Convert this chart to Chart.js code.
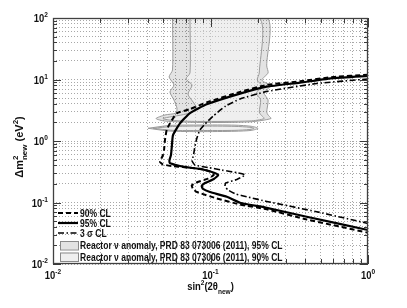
<!DOCTYPE html>
<html lang="en">
<head>
<meta charset="UTF-8">
<title>Exclusion contours</title>
<script src="https://cdn.jsdelivr.net/npm/chart.js"></script>
<style>
  html, body { margin: 0; padding: 0; background: #fff; }
  #wrap { width: 407px; height: 308px; }
</style>
</head>
<body>
<div id="wrap"><canvas id="contours" width="407" height="308"></canvas></div>
<script>
// ---- data: sin^2(2theta_new) and dm^2_new (eV^2) ----
const cl90_sin = [1, 0.602, 0.370, 0.2275, 0.154, 0.0946, 0.0741, 0.061, 0.0553, 0.0527, 0.0514, 0.0507, 0.0499, 0.0486, 0.0478, 0.0499, 0.057, 0.0689, 0.0857, 0.0993, 0.105, 0.0964, 0.081, 0.076, 0.0775, 0.082, 0.109, 0.154, 0.2275, 0.408, 1];
const cl90_dm2 = [12.0, 11.0, 9.37, 8.15, 6.3, 4.25, 3.3, 2.82, 1.94, 1.51, 1.04, 0.714, 0.59, 0.51, 0.456, 0.415, 0.392, 0.373, 0.355, 0.319, 0.28, 0.245, 0.211, 0.189, 0.166, 0.148, 0.117, 0.0927, 0.0775, 0.0531, 0.0323];

const cl95_sin = [1, 0.602, 0.370, 0.2275, 0.154, 0.0946, 0.0741, 0.064, 0.0578, 0.0568, 0.0561, 0.0549, 0.0553, 0.0604, 0.0671, 0.0857, 0.102, 0.112, 0.105, 0.0923, 0.0879, 0.0896, 0.0993, 0.127, 0.154, 0.2275, 0.408, 1];
const cl95_dm2 = [11.4, 10.5, 8.87, 7.64, 5.9, 3.95, 2.85, 1.94, 1.25, 0.81, 0.59, 0.49, 0.438, 0.407, 0.382, 0.350, 0.313, 0.280, 0.241, 0.207, 0.185, 0.166, 0.148, 0.124, 0.0993, 0.082, 0.0587, 0.0357];

const cl3s_sin = [1, 0.472, 0.2275, 0.154, 0.125, 0.104, 0.0923, 0.0857, 0.082, 0.0797, 0.078, 0.0764, 0.0797, 0.0964, 0.118, 0.150, 0.166, 0.147, 0.125, 0.1236, 0.129, 0.145, 0.170, 0.2275, 0.472, 1];
const cl3s_dm2 = [10.2, 8.6, 6.38, 4.82, 3.71, 2.55, 1.89, 1.51, 1.12, 0.83, 0.59, 0.473, 0.407, 0.371, 0.337, 0.302, 0.280, 0.237, 0.207, 0.185, 0.160, 0.137, 0.124, 0.104, 0.0708, 0.0456];

// reactor anomaly allowed regions (closed outlines)
const ra95band_sin = [0.0574, 0.0574, 0.0546, 0.0586, 0.0553, 0.0586, 0.0612, 0.0604, 0.0514, 0.0451, 0.0514, 0.0857, 0.178, 0.242, 0.232, 0.2275, 0.232, 0.219, 0.239, 0.212, 0.232, 0.2275, 0.2275, 0.0574];
const ra95band_dm2 = [100, 14.3, 11.0, 8.15, 6.27, 4.64, 3.44, 2.85, 2.65, 2.32, 2.11, 2.00, 2.05, 2.32, 2.65, 2.96, 4.64, 6.03, 7.84, 9.8, 12.8, 16.6, 100, 100];
const ra90band_sin = [0.0741, 0.0741, 0.0698, 0.0764, 0.0719, 0.0775, 0.082, 0.07, 0.0499, 0.06, 0.0857, 0.178, 0.219, 0.208, 0.204, 0.208, 0.196, 0.212, 0.198, 0.204, 0.204, 0.0741];
const ra90band_dm2 = [100, 12.8, 10.2, 8.15, 5.81, 4.31, 3.31, 2.75, 2.32, 2.14, 2.08, 2.12, 2.32, 2.7, 2.96, 4.64, 6.03, 7.84, 9.8, 12.8, 100, 100];
const ra95lobe_sin = [0.0401, 0.0553, 0.0857, 0.143, 0.183, 0.200, 0.183, 0.143, 0.0857, 0.0553, 0.0401];
const ra95lobe_dm2 = [1.61, 1.45, 1.42, 1.44, 1.49, 1.61, 1.73, 1.81, 1.82, 1.79, 1.61];
const ra90lobe_sin = [0.0432, 0.0574, 0.0857, 0.143, 0.178, 0.189, 0.178, 0.143, 0.0857, 0.0574, 0.0432];
const ra90lobe_dm2 = [1.61, 1.49, 1.48, 1.49, 1.54, 1.61, 1.67, 1.73, 1.75, 1.72, 1.61];

const xDecades = [-2, -1, 0];
const yDecades = [-2, -1, 0, 1, 2];

// ---- helpers ----
function pts(xs, ys) { return xs.map((x, i) => ({ x: x, y: ys[i] })); }

function decadeTicks(decs) {
  const out = [];
  decs.forEach((d, i) => {
    const last = i === decs.length - 1;
    for (let m = 1; m <= (last ? 1 : 9); m++) out.push({ value: m * Math.pow(10, d), major: m === 1 });
  });
  return out;
}

const FONT = '"Liberation Sans", Arial, Helvetica, sans-serif';
const SQUEEZE = 0.82; // the original figure is squashed sideways

// draw text made of pieces, some raised or lowered (super/subscripts)
function richText(ctx, parts, x, y, align, squeeze) {
  ctx.save();
  let w = 0;
  parts.forEach(p => {
    ctx.font = 'bold ' + p.size + 'px ' + FONT;
    p.w = ctx.measureText(p.t).width;
    if (!p.stack) w += p.w;
  });
  ctx.translate(x, y);
  ctx.scale(squeeze, 1);
  ctx.textAlign = 'left';
  ctx.textBaseline = 'alphabetic';
  let cx = align === 'right' ? -w : (align === 'center' ? -w / 2 : 0);
  parts.forEach(p => {
    ctx.font = 'bold ' + p.size + 'px ' + FONT;
    ctx.fillText(p.t, cx, p.dy || 0);
    if (!p.stack) cx += p.w;
  });
  ctx.restore();
}

// frame, inward ticks, tick labels, axis titles, legend
const decor = {
  id: 'decor',
  afterDatasetsDraw(chart) {
    const ctx = chart.ctx;
    const a = chart.chartArea;
    const xs = chart.scales.x, ys = chart.scales.y;
    ctx.save();
    ctx.strokeStyle = '#3a3a3a';
    ctx.lineWidth = 1;
    ctx.beginPath();
    xs.ticks.forEach(t => {
      const p = Math.round(xs.getPixelForValue(t.value)) + 0.5;
      const len = t.major ? 9 : 5;
      ctx.moveTo(p, a.bottom); ctx.lineTo(p, a.bottom - len);
      ctx.moveTo(p, a.top); ctx.lineTo(p, a.top + len);
    });
    ys.ticks.forEach(t => {
      const p = Math.round(ys.getPixelForValue(t.value)) + 0.5;
      const len = t.major ? 8 : 4;
      ctx.moveTo(a.left, p); ctx.lineTo(a.left + len, p);
      ctx.moveTo(a.right, p); ctx.lineTo(a.right - len, p);
    });
    ctx.stroke();
    ctx.lineWidth = 1.3;
    ctx.strokeStyle = '#404040';
    ctx.strokeRect(a.left + 0.5, a.top + 0.5, a.right - a.left - 1, a.bottom - a.top - 1);
    ctx.fillStyle = '#111';

    xDecades.forEach(d => {
      const p = xs.getPixelForValue(Math.pow(10, d));
      richText(ctx, [{ t: '10', size: 11.5 }, { t: String(d), size: 8, dy: -5 }], p, a.bottom + 15, 'center', SQUEEZE);
    });
    yDecades.forEach(d => {
      const p = ys.getPixelForValue(Math.pow(10, d));
      richText(ctx, [{ t: '10', size: 11.5 }, { t: String(d), size: 8, dy: -5 }], a.left - 5, p + 4, 'right', SQUEEZE);
    });

    // axis titles
    richText(ctx, [{ t: 'sin', size: 11.5 }, { t: '2', size: 8, dy: -5 }, { t: '(2\u03b8', size: 11.5 },
      { t: 'new', size: 8, dy: 4 }, { t: ')', size: 11.5 }], (a.left + a.right) / 2, 290, 'center', SQUEEZE);
    ctx.save();
    ctx.translate(23, (a.top + a.bottom) / 2 + 6);
    ctx.rotate(-Math.PI / 2);
    richText(ctx, [{ t: '\u0394m', size: 11 }, { t: '2', size: 8, dy: -5, stack: true }, { t: 'new', size: 8, dy: 4 },
      { t: ' (eV', size: 11 }, { t: '2', size: 8, dy: -5 }, { t: ')', size: 11 }], 0, 0, 'center', 1);
    ctx.restore();

    // legend
    const ds = chart.data.datasets;
    const lineRows = [[ds[0], 213], [ds[1], 223], [ds[2], 233]];
    lineRows.forEach(r => {
      const d = r[0], y = r[1];
      ctx.save();
      ctx.strokeStyle = d.borderColor;
      ctx.lineWidth = d.borderWidth;
      ctx.setLineDash(d.borderDash || []);
      ctx.beginPath(); ctx.moveTo(58, y); ctx.lineTo(78, y); ctx.stroke();
      ctx.restore();
      richText(ctx, [{ t: d.label, size: 10.4 }], 80, y + 3.5, 'left', SQUEEZE);
    });
    const boxRows = [[ds[5], '#e3e3e3', 241], [ds[3], '#efefef', 252.5]];
    boxRows.forEach(r => {
      const d = r[0], y = r[2];
      ctx.fillStyle = r[1];
      ctx.fillRect(60, y, 18, 8.5);
      ctx.strokeStyle = '#8a8a8a';
      ctx.lineWidth = 1;
      ctx.strokeRect(60.5, y + 0.5, 18, 8.5);
      ctx.fillStyle = '#111';
      richText(ctx, [{ t: d.label, size: 10.4 }], 80, y + 8, 'left', SQUEEZE);
    });
    ctx.restore();
  }
};

const lineBase = { showLine: true, pointRadius: 0, fill: false, tension: 0.15, borderColor: '#000', borderJoinStyle: 'round' };
const regionBase = { showLine: true, pointRadius: 0, tension: 0.25, fill: 'shape', borderColor: '#9a9a9a', borderWidth: 1 };

new Chart(document.getElementById('contours'), {
  type: 'scatter',
  data: {
    datasets: [
      Object.assign({}, lineBase, { label: '90% CL', data: pts(cl90_sin, cl90_dm2), borderWidth: 2, borderDash: [5, 3] }),
      Object.assign({}, lineBase, { label: '95% CL', data: pts(cl95_sin, cl95_dm2), borderWidth: 2.2 }),
      Object.assign({}, lineBase, { label: '3 \u03c3 CL', data: pts(cl3s_sin, cl3s_dm2), borderWidth: 1.6, borderDash: [6, 2.5, 1.5, 2.5] }),
      Object.assign({}, regionBase, { label: 'Reactor \u03bd anomaly, PRD 83 073006 (2011), 90% CL', data: pts(ra90band_sin, ra90band_dm2), backgroundColor: 'rgba(255,255,255,0.42)' }),
      Object.assign({}, regionBase, { label: 'Reactor \u03bd anomaly, PRD 83 073006 (2011), 90% CL', data: pts(ra90lobe_sin, ra90lobe_dm2), backgroundColor: 'rgba(255,255,255,0.42)' }),
      Object.assign({}, regionBase, { label: 'Reactor \u03bd anomaly, PRD 83 073006 (2011), 95% CL', data: pts(ra95band_sin, ra95band_dm2), backgroundColor: 'rgba(0,0,0,0.11)' }),
      Object.assign({}, regionBase, { label: 'Reactor \u03bd anomaly, PRD 83 073006 (2011), 95% CL', data: pts(ra95lobe_sin, ra95lobe_dm2), backgroundColor: 'rgba(0,0,0,0.11)' })
    ]
  },
  options: {
    responsive: false,
    animation: false,
    layout: { padding: { left: 53, right: 39, top: 18, bottom: 44 } },
    plugins: { legend: { display: false }, tooltip: { enabled: false } },
    scales: {
      x: {
        type: 'logarithmic', min: 0.01, max: 1,
        afterBuildTicks: s => { s.ticks = decadeTicks(xDecades); },
        ticks: { display: false, autoSkip: false },
        grid: { color: '#a8a8a8', lineWidth: 1, drawTicks: false },
        border: { display: false, dash: [1, 2] }
      },
      y: {
        type: 'logarithmic', min: 0.01, max: 100,
        afterBuildTicks: s => { s.ticks = decadeTicks(yDecades); },
        ticks: { display: false, autoSkip: false },
        grid: { color: '#a8a8a8', lineWidth: 1, drawTicks: false },
        border: { display: false, dash: [1, 2] }
      }
    }
  },
  plugins: [decor]
});
</script>
</body>
</html>
